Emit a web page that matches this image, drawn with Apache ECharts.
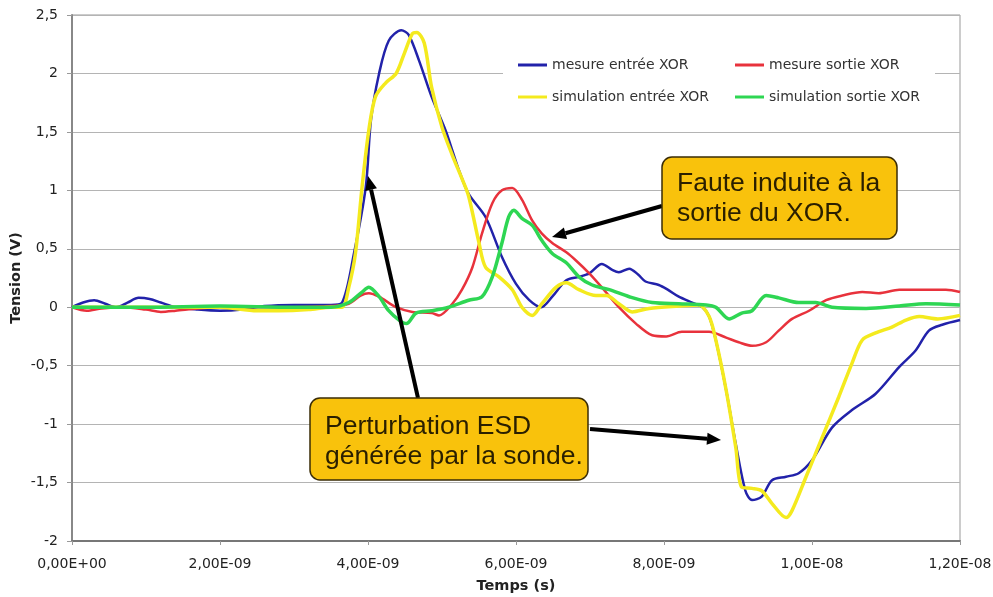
<!DOCTYPE html>
<html>
<head>
<meta charset="utf-8">
<script src="https://cdn.jsdelivr.net/npm/echarts@6/dist/echarts.min.js"></script>
<style>html,body{margin:0;padding:0;background:#fff}#c{width:993px;height:597px}</style>
</head>
<body>
<div id="c"></div>
<script>
// Time in nanoseconds (axis labelled in seconds), voltage in volts
const xTickLabels = ['0,00E+00','2,00E-09','4,00E-09','6,00E-09','8,00E-09','1,00E-08','1,20E-08'];
const yTickLabels = ['-2','-1,5','-1','-0,5','0','0,5','1','1,5','2','2,5'];
const seriesNames = ['mesure entrée XOR','mesure sortie XOR','simulation entrée XOR','simulation sortie XOR'];

const tMesureEntree = [0,0.15,0.3,0.45,0.6,0.75,0.9,1.05,1.2,1.4,1.7,2.0,2.3,2.6,3.0,3.3,3.5,3.65,3.81,3.97,4.04,4.15,4.28,4.45,4.55,4.69,4.86,5.05,5.14,5.23,5.36,5.59,5.81,6.0,6.18,6.34,6.49,6.68,6.85,6.99,7.16,7.3,7.39,7.53,7.65,7.75,7.93,8.05,8.2,8.38,8.52,8.61,8.7,8.84,8.97,9.1,9.19,9.32,9.46,9.65,9.82,10.0,10.27,10.54,10.86,11.18,11.4,11.58,11.76,12];
const vMesureEntree = [0,0.04,0.06,0.03,0,0.04,0.08,0.07,0.04,0,-0.02,-0.03,-0.02,0.01,0.02,0.02,0.02,0.04,0.46,1.03,1.6,2.0,2.28,2.37,2.33,2.11,1.8,1.51,1.34,1.17,0.97,0.77,0.43,0.2,0.06,0,0.09,0.23,0.26,0.29,0.37,0.32,0.3,0.33,0.28,0.22,0.19,0.15,0.09,0.04,0,-0.08,-0.28,-0.71,-1.17,-1.57,-1.65,-1.62,-1.48,-1.45,-1.42,-1.31,-1.03,-0.88,-0.74,-0.51,-0.37,-0.2,-0.15,-0.11];

const tMesureSortie = [0,0.2,0.4,0.7,1.0,1.2,1.4,1.7,2.0,2.5,3.0,3.5,3.74,3.9,4.01,4.15,4.38,4.6,4.86,4.96,5.14,5.27,5.41,5.54,5.68,5.81,5.95,6.08,6.22,6.35,6.49,6.68,6.81,6.99,7.16,7.39,7.62,7.84,8.03,8.24,8.61,8.84,9.01,9.19,9.38,9.55,9.73,9.96,10.19,10.41,10.68,10.9,11.18,11.54,11.81,12];
const vMesureSortie = [0,-0.03,-0.01,0,-0.02,-0.04,-0.03,-0.01,0,0,0,0.01,0.03,0.1,0.12,0.09,0,-0.04,-0.05,-0.07,0.03,0.15,0.34,0.63,0.89,1.0,1.02,0.92,0.74,0.63,0.55,0.47,0.4,0.29,0.17,0,-0.14,-0.24,-0.25,-0.21,-0.21,-0.26,-0.3,-0.33,-0.3,-0.2,-0.1,-0.03,0.06,0.1,0.13,0.12,0.15,0.15,0.15,0.13];

const tSimEntree = [0,0.5,1.0,1.5,2.0,2.5,2.8,3.2,3.5,3.65,3.74,3.83,3.92,4.01,4.1,4.24,4.38,4.49,4.6,4.66,4.76,4.86,5.0,5.14,5.27,5.36,5.5,5.59,5.77,5.95,6.08,6.22,6.35,6.54,6.68,6.85,7.08,7.22,7.39,7.57,7.8,8.2,8.47,8.61,8.7,8.84,8.97,9.05,9.19,9.32,9.46,9.65,9.73,9.92,10.14,10.36,10.54,10.68,10.86,11.08,11.27,11.45,11.7,12];
const vSimEntree = [0,0,0,0,0,-0.03,-0.03,-0.02,0,0,0.17,0.46,1.03,1.51,1.8,1.92,2.0,2.17,2.34,2.35,2.26,1.88,1.54,1.3,1.1,0.95,0.55,0.34,0.26,0.15,0,-0.07,0.03,0.17,0.21,0.15,0.1,0.1,0.03,-0.04,-0.01,0.01,0.02,-0.08,-0.28,-0.71,-1.2,-1.54,-1.55,-1.57,-1.68,-1.8,-1.74,-1.45,-1.11,-0.77,-0.48,-0.28,-0.22,-0.17,-0.11,-0.08,-0.1,-0.07];

const tSimSortie = [0,1,2,3,3.5,3.74,3.92,4.01,4.15,4.28,4.42,4.52,4.65,4.86,5.09,5.36,5.54,5.68,5.81,5.9,5.97,6.08,6.22,6.35,6.49,6.68,6.85,7.03,7.26,7.53,7.84,8.2,8.57,8.7,8.88,9.05,9.19,9.38,9.55,9.82,10.05,10.27,10.73,11.18,11.54,12];
const vSimSortie = [0,0,0.01,0,0,0.04,0.13,0.17,0.09,-0.03,-0.11,-0.14,-0.05,-0.03,0,0.06,0.09,0.26,0.55,0.77,0.83,0.76,0.7,0.57,0.46,0.38,0.26,0.19,0.15,0.09,0.04,0.03,0.02,0,-0.1,-0.05,-0.03,0.1,0.08,0.04,0.04,0,-0.01,0.01,0.03,0.02];

const annotationLines1 = ['Faute induite à la','sortie du XOR.'];
const annotationLines2 = ['Perturbation ESD','générée par la sonde.'];

const pair = (ts, vs) => ts.map((t, i) => [t, vs[i]]);
const FONT = 'DejaVu Sans';

function arrow(x1, y1, x2, y2) {
  const ang = Math.atan2(y2 - y1, x2 - x1);
  const L = 14, W = 6;
  const bx = x2 - L * Math.cos(ang), by = y2 - L * Math.sin(ang);
  const px = -Math.sin(ang), py = Math.cos(ang);
  return [
    { type: 'line', z: 20, shape: { x1: x1, y1: y1, x2: bx, y2: by }, style: { stroke: '#000', lineWidth: 4 } },
    { type: 'polygon', z: 20, shape: { points: [[x2, y2], [bx + px * W, by + py * W], [bx - px * W, by - py * W]] }, style: { fill: '#000' } }
  ];
}
function box(x, y, w, h, lines, tx, ty0) {
  const els = [{ type: 'rect', z: 21, shape: { x: x, y: y, width: w, height: h, r: 10 }, style: { fill: '#F9C20C', stroke: '#3a2c06', lineWidth: 1.5 } }];
  lines.forEach((s, i) => els.push({ type: 'text', z: 22, x: tx, y: ty0 + i * 30, style: { text: s, fill: '#2a1f00', font: '26.5px "Liberation Sans", Arial, sans-serif', textVerticalAlign: 'bottom' } }));
  return els;
}

const legendCommon = { orient: 'vertical', icon: 'rect', itemWidth: 29, itemHeight: 3, itemGap: 18,
  textStyle: { fontFamily: FONT, fontSize: 14, color: '#333' }, z: 30 };

const chart = echarts.init(document.getElementById('c'), null, { renderer: 'canvas' });
chart.setOption({
  animation: false,
  backgroundColor: '#fff',
  grid: { left: 72, right: 33, top: 15, bottom: 56, show: true, borderColor: '#999', borderWidth: 1, containLabel: false, outerBoundsMode: 'none' },
  xAxis: {
    type: 'value', min: 0, max: 12, interval: 2,
    name: 'Temps (s)', nameLocation: 'middle', nameGap: 38, nameMoveOverlap: false,
    nameTextStyle: { fontFamily: FONT, fontWeight: 'bold', fontSize: 14.5, color: '#222' },
    axisLine: { show: true, onZero: false, lineStyle: { color: '#777', width: 2 } },
    axisTick: { show: true, length: 4, lineStyle: { color: '#999' } },
    axisLabel: { fontFamily: FONT, fontSize: 14, color: '#222', margin: 16, formatter: v => xTickLabels[Math.round(v / 2)] },
    splitLine: { show: false }
  },
  yAxis: {
    type: 'value', min: -2, max: 2.5, interval: 0.5,
    name: 'Tension (V)', nameLocation: 'middle', nameGap: 48, nameRotate: 90, nameMoveOverlap: false,
    nameTextStyle: { fontFamily: FONT, fontWeight: 'bold', fontSize: 14.5, color: '#222' },
    axisLine: { show: true, lineStyle: { color: '#888', width: 2 } },
    axisTick: { show: true, length: 5, lineStyle: { color: '#999' } },
    axisLabel: { fontFamily: FONT, fontSize: 14, color: '#222', margin: 14, formatter: v => yTickLabels[Math.round((v + 2) / 0.5)] },
    splitLine: { show: true, lineStyle: { color: '#b4b4b4', width: 1 } }
  },
  legend: [
    Object.assign({ data: [seriesNames[0], seriesNames[2]], left: 513, top: 53 }, legendCommon),
    Object.assign({ data: [seriesNames[1], seriesNames[3]], left: 730, top: 53 }, legendCommon)
  ],
  series: [
    { name: seriesNames[0], type: 'line', data: pair(tMesureEntree, vMesureEntree), showSymbol: false, symbol: 'none', smooth: 0.3, color: '#2222AA', lineStyle: { width: 2.5, color: '#2222AA' } },
    { name: seriesNames[1], type: 'line', data: pair(tMesureSortie, vMesureSortie), showSymbol: false, symbol: 'none', smooth: 0.3, color: '#E8323C', lineStyle: { width: 2.5, color: '#E8323C' } },
    { name: seriesNames[2], type: 'line', data: pair(tSimEntree, vSimEntree), showSymbol: false, symbol: 'none', smooth: 0.3, color: '#F4EA1E', lineStyle: { width: 3.5, color: '#F4EA1E' } },
    { name: seriesNames[3], type: 'line', data: pair(tSimSortie, vSimSortie), showSymbol: false, symbol: 'none', smooth: 0.3, color: '#2ED653', lineStyle: { width: 3.5, color: '#2ED653' } }
  ],
  graphic: [
    { type: 'rect', z: 5, shape: { x: 503, y: 45, width: 432, height: 66 }, style: { fill: '#fff' } },
    ...arrow(662, 206, 552, 237),
    ...arrow(418, 398, 368, 176),
    ...arrow(590, 429, 721, 440),
    ...box(662, 157, 235, 82, annotationLines1, 677, 197),
    ...box(310, 398, 278, 82, annotationLines2, 325, 440)
  ]
});
</script>
</body>
</html>
